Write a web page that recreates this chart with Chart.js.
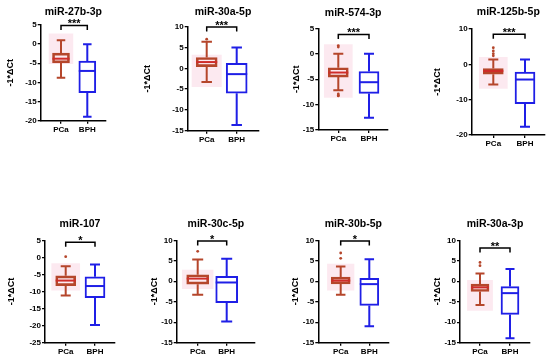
<!DOCTYPE html>
<html><head><meta charset="utf-8">
<script src="https://cdn.jsdelivr.net/npm/chart.js@4/dist/chart.umd.min.js"></script>
<style>
html,body{margin:0;padding:0;background:#fff;width:550px;height:364px;overflow:hidden}
canvas{position:absolute;left:0;top:0}
</style></head><body>
<script>
// ---------------- DATA ----------------
const titles = ['miR-27b-3p','miR-30a-5p','miR-574-3p','miR-125b-5p','miR-107','miR-30c-5p','miR-30b-5p','miR-30a-3p'];
const categories = ['PCa','BPH'];
// [min whisker, Q1, median, Q3, max whisker]
const pcaStats = [
  [-8.8,-4.9,-3.8,-2.35,1.0],
  [-3.3,0.4,1.5,2.6,6.4],
  [-7.2,-4.6,-3.7,-2.75,0.0],
  [-5.7,-2.8,-1.9,-1.2,1.4],
  [-11.2,-8.3,-6.8,-5.4,-2.6],
  [-3.3,-0.7,0.65,1.6,5.3],
  [-3.3,-0.65,0.15,1.0,3.6],
  [-5.8,-2.5,-1.5,-0.7,1.9]
];
const bphStats = [
  [-19.0,-12.7,-7.0,-4.4,0.0],
  [-13.6,-6.0,-1.4,1.2,5.0],
  [-12.6,-7.8,-5.6,-3.5,0.0],
  [-17.7,-11.1,-4.3,-2.2,1.4],
  [-19.8,-11.8,-8.4,-5.7,-2.1],
  [-9.8,-5.2,-0.3,1.2,5.5],
  [-11.0,-5.9,-0.7,0.7,5.4],
  [-13.9,-8.1,-2.9,-1.3,3.0]
];
const pcaOutliers = [
  [],
  [7.0],
  [1.6,1.3,-7.9,-8.2,-8.3],
  [4.7,3.8,3.0,2.4],
  [0.2],
  [7.3],
  [6.9,5.6],
  [4.6,3.8]
];
// spread of the individual PCa points (pale band)
const pcaSpread = [
  [-5.1,2.7],[-4.4,3.2],[-8.6,1.8],[-6.8,2.0],[-9.6,-1.8],[-1.8,2.7],[-2.2,4.2],[-7.1,0.2]
];
const sigLabels = ['***','***','***','***','*','*','*','**'];
const sigLevel = [4.9,9.9,3.8,8.5,4.4,9.8,9.8,8.1];
const yMin = [-20,-15,-15,-20,-25,-15,-15,-15];
const yMax = [5,10,5,10,5,10,10,10];
const yStep = [5,5,5,10,5,5,5,5];

// ---------------- LAYOUT (pixels) ----------------
// [plotLeft, plotRight, plotTop, plotBottom, tickPCa, tickBPH, yTitleX, titleY, boxWidth]
const panelGeom = [
  [40.7,106,25,120.7,61,87.3,11,12,17],
  [187.7,258.3,26.7,130.7,206.7,236.7,148,12,21],
  [318.3,388,28.3,130,338.3,369,297,13,20],
  [471.7,545,29,135,493.3,525,438,12.5,20],
  [45,115,240.3,342.7,65.7,95,12,224,20],
  [176.7,255,240.3,342.7,197.7,226.7,155,224,22],
  [318.3,388.3,240.3,342.7,340.7,369.3,296,224,19],
  [460,530,240.3,342.7,480,510,438,224,18]
];

const FONT = "'Liberation Sans', Arial, Helvetica, sans-serif";
const PCA_COLOR = '#b5462b', PCA_MED = '#cf2c2a', BPH_COLOR = '#1f1fe6';
const HALO = 'rgba(246,182,206,0.3)';
Chart.defaults.font.family = FONT;
Chart.defaults.color = '#000';

const extras = {
  id: 'extras',
  afterDatasetsDraw(chart) {
    const p = chart.options.plugins.extras.panel;
    const g = panelGeom[p];
    const {ctx, chartArea} = chart;
    const x = chart.scales.x, y = chart.scales.y;
    const bw = g[8];
    const groups = [[pcaStats[p], PCA_COLOR, PCA_MED, 1], [bphStats[p], BPH_COLOR, BPH_COLOR, 2]];
    ctx.save();
    ctx.lineCap = 'butt';
    for (const [s, col, med, xv] of groups) {
      const cx = x.getPixelForValue(xv);
      const pMin = y.getPixelForValue(s[0]), pQ1 = y.getPixelForValue(s[1]);
      const pMed = y.getPixelForValue(s[2]), pQ3 = y.getPixelForValue(s[3]);
      const pMax = y.getPixelForValue(s[4]);
      ctx.strokeStyle = col; ctx.lineWidth = 2;
      ctx.beginPath();
      ctx.moveTo(cx, pQ3); ctx.lineTo(cx, pMax);
      ctx.moveTo(cx, pQ1); ctx.lineTo(cx, pMin);
      ctx.moveTo(cx - bw/4, pMax); ctx.lineTo(cx + bw/4, pMax);
      ctx.moveTo(cx - bw/4, pMin); ctx.lineTo(cx + bw/4, pMin);
      ctx.stroke();
      ctx.strokeStyle = med;
      ctx.beginPath();
      ctx.moveTo(cx - bw/2, pMed); ctx.lineTo(cx + bw/2, pMed);
      ctx.stroke();
    }
    // significance bracket
    const x1 = x.getPixelForValue(1), x2 = x.getPixelForValue(2);
    const py = y.getPixelForValue(sigLevel[p]);
    ctx.strokeStyle = '#000'; ctx.lineWidth = 1.5;
    ctx.beginPath();
    ctx.moveTo(x1, py + 4.5); ctx.lineTo(x1, py); ctx.lineTo(x2, py); ctx.lineTo(x2, py + 4.5);
    ctx.stroke();
    ctx.fillStyle = '#000';
    ctx.font = 'bold 11px ' + FONT;
    ctx.textAlign = 'center'; ctx.textBaseline = 'alphabetic';
    ctx.fillText(sigLabels[p], (x1 + x2) / 2, py + 1.8);
    // panel title
    ctx.font = 'bold 10.5px ' + FONT;
    ctx.textBaseline = 'middle';
    ctx.fillText(titles[p], (chartArea.left + chartArea.right) / 2, g[7]);
    ctx.restore();
  }
};

for (let p = 0; p < titles.length; p++) {
  const g = panelGeom[p];
  const cv = document.createElement('canvas');
  cv.width = 550; cv.height = 364;
  document.body.appendChild(cv);
  const spacing = g[5] - g[4];
  const xmin = 1 - (g[4] - g[0]) / spacing;
  const xmax = 2 + (g[1] - g[5]) / spacing;
  const titleLH = 9 * 1.2;
  const padLeft = g[6] - titleLH / 2;
  const yWidth = g[0] - padLeft;
  const xHeight = 16;
  const bw = g[8];
  new Chart(cv, {
    type: 'bar',
    data: {
      datasets: [
        {
          type: 'scatter',
          data: pcaOutliers[p].map(v => ({x: 1, y: v})),
          pointRadius: 1.4, pointBackgroundColor: PCA_COLOR, pointBorderWidth: 0,
          order: 1
        },
        {
          data: [{x: 1, y: [pcaStats[p][1], pcaStats[p][3]]}, {x: 2, y: [bphStats[p][1], bphStats[p][3]]}],
          backgroundColor: ['rgba(0,0,0,0)', '#ffffff'],
          borderColor: [PCA_COLOR, BPH_COLOR],
          borderWidth: 2, borderSkipped: false,
          barThickness: bw, grouped: false, order: 2
        },
        {
          data: [{x: 1, y: pcaSpread[p]}],
          backgroundColor: HALO, borderWidth: 0,
          barThickness: bw * 1.4, grouped: false, order: 3
        }
      ]
    },
    options: {
      responsive: false, animation: false, devicePixelRatio: 1,
      layout: {padding: {left: padLeft, right: 550 - g[1], top: g[2], bottom: 364 - g[3] - xHeight}},
      plugins: {legend: {display: false}, tooltip: {enabled: false}, extras: {panel: p}},
      scales: {
        x: {
          type: 'linear', min: xmin, max: xmax, offset: false, bounds: 'data', grace: 0,
          afterBuildTicks: s => { s.ticks = [{value: 1}, {value: 2}]; },
          afterFit: s => { s.height = xHeight; },
          ticks: {autoSkip: false, maxRotation: 0, padding: 1, color: '#000',
                  font: {size: 8, weight: 'bold'},
                  callback: v => categories[v - 1] || ''},
          grid: {display: true, offset: false, drawOnChartArea: false, drawTicks: true, tickLength: 3, color: '#000', lineWidth: 1.3},
          border: {display: true, color: '#000', width: 1.5}
        },
        y: {
          min: yMin[p], max: yMax[p],
          afterFit: s => { s.width = yWidth; },
          ticks: {stepSize: yStep[p], padding: 1, color: '#000', font: {size: 8, weight: 'bold'}},
          grid: {display: true, drawOnChartArea: false, drawTicks: true, tickLength: 3, color: '#000', lineWidth: 1.3},
          border: {display: true, color: '#000', width: 1.5},
          title: {display: true, text: '-1*ΔCt', color: '#000', padding: 0, font: {size: 9, weight: 'bold'}}
        }
      }
    },
    plugins: [extras]
  });
}
</script>
</body></html>
